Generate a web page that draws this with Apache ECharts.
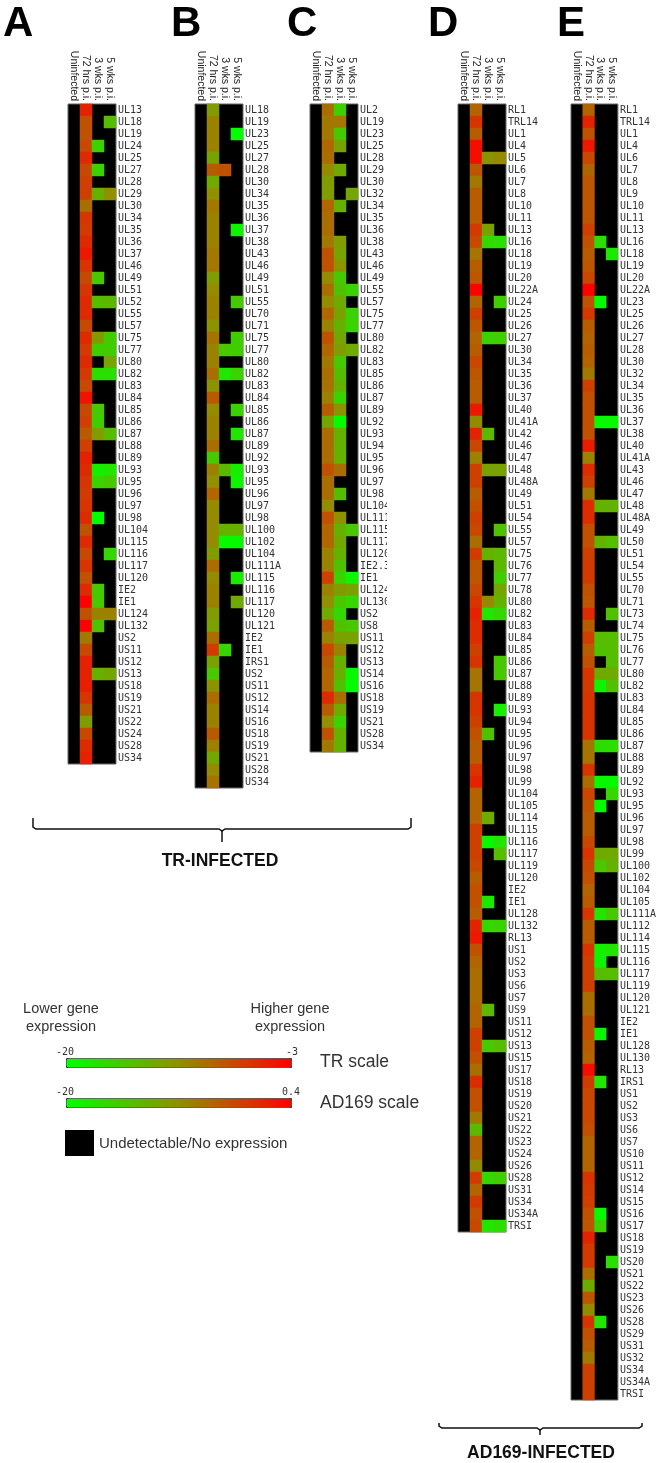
<!DOCTYPE html>
<html>
<head>
<meta charset="utf-8">
<style>html,body{margin:0;padding:0;background:#fff}</style>
<script src="https://cdn.jsdelivr.net/npm/echarts@6/dist/echarts.min.js"></script>
</head>
<body>
<div id="main" style="width:659px;height:1463px"></div>
<script>
const _ = null;
const columns = ['Uninfected', '72 hrs p.i.', '3 wks p.i.', '5 wks p.i.'];
const scaleColors = ['#00ff00', '#909000', '#ff0000'];

// panel A (TR scale)
const genesA = ['UL13','UL18','UL19','UL24','UL25','UL27','UL28','UL29','UL30','UL34',
  'UL35','UL36','UL37','UL46','UL49','UL51','UL52','UL55','UL57','UL75',
  'UL77','UL80','UL82','UL83','UL84','UL85','UL86','UL87','UL88','UL89',
  'UL93','UL95','UL96','UL97','UL98','UL104','UL115','UL116','UL117','UL120',
  'IE2','IE1','UL124','UL132','US2','US11','US12','US13','US18','US19',
  'US21','US22','US24','US28','US34'];
const hrs72A = [-5,-7.8,-7.8,-7.3,-5.5,-7.3,-6.7,-6.7,-9.5,-6.1,
  -6.4,-5.5,-4.4,-6.1,-7.3,-6.1,-5.5,-5.5,-7.3,-5.5,
  -6.4,-5.5,-6.4,-7.3,-4.2,-7.3,-6.7,-8.4,-6.7,-5,
  -5.5,-6.1,-6.4,-6.1,-5.5,-7.8,-5.5,-7.3,-6.1,-7.8,
  -5.5,-3,-7.8,-3,-10.1,-7.3,-5,-5,-4.7,-6.1,
  -8.4,-12.4,-7.3,-5.5,-5];
const wks3A = [_,_,_,-16.6,_,-16.6,_,-14,_,_,
  _,_,_,_,-15.8,_,-14.9,_,_,-12.4,
  -16.2,_,-17.5,_,_,-15.8,-16.2,-12.4,_,_,
  -18.8,-16.6,_,_,-20,_,_,_,_,_,
  -15.8,-15.8,-10.7,-15.2,_,_,_,-14,_,_,
  _,_,_,_,_];
const wks5A = [_,-14.9,_,_,_,_,_,-11.5,_,_,
  _,_,_,_,_,_,-14.6,_,_,-16.2,
  -16.2,-13.2,-17.5,_,_,_,_,-14.9,_,_,
  -18,-15.8,_,_,_,_,_,-16.9,_,_,
  _,_,-10.7,_,_,_,_,-13.2,_,_,
  _,_,_,_,_];

// panel B (TR scale)
const genesB = ['UL18','UL19','UL23','UL25','UL27','UL28','UL30','UL34','UL35','UL36',
  'UL37','UL38','UL43','UL46','UL49','UL51','UL55','UL70','UL71','UL75',
  'UL77','UL80','UL82','UL83','UL84','UL85','UL86','UL87','UL89','UL92',
  'UL93','UL95','UL96','UL97','UL98','UL100','UL102','UL104','UL111A','UL115',
  'UL116','UL117','UL120','UL121','IE2','IE1','IRS1','US2','US11','US12',
  'US14','US16','US18','US19','US21','US28','US34'];
const hrs72B = [-12.4,-10.7,-10.7,-10.7,-12.9,-8.4,-13.5,-11.5,-10.1,-10.7,
  -10.7,-10.7,-10.1,-10.1,-12.4,-11.2,-10.7,-10.7,-11.8,-9.8,
  -10.7,-10.7,-9.5,-11.8,-8.4,-11.2,-10.7,-10.7,-9.5,-15.8,
  -10.7,-11.5,-9,-11.2,-11.2,-11.2,-11.2,-12.4,-9.5,-11.2,
  -10.7,-10.7,-12.4,-12.9,-9.5,-6.4,-12.9,-15.8,-11.8,-9.5,
  -10.7,-10.7,-8.4,-10.7,-13.2,-11.2,-9.8];
const wks3B = [_,_,_,_,_,-7.8,_,_,_,_,
  _,_,_,_,_,_,_,_,_,_,
  -15.8,_,-18.3,_,_,_,_,_,_,_,
  -14.6,_,_,_,_,-14,-19.5,_,_,_,
  _,_,_,_,_,-16.9,_,_,_,_,
  _,_,_,_,_,_,_];
const wks5B = [_,_,-20,_,_,_,_,_,_,_,
  -19.2,_,_,_,_,_,-15.8,_,_,-16.2,
  -16.2,_,-16.6,_,_,-16.6,_,-18,_,_,
  -18.6,-19.2,_,_,_,-14,-19.5,_,_,-18.6,
  _,-13.5,_,_,_,_,_,_,_,_,
  _,_,_,_,_,_,_];

// panel C (TR scale)
const genesC = ['UL2','UL19','UL23','UL25','UL28','UL29','UL30','UL32','UL34','UL35',
  'UL36','UL38','UL43','UL46','UL49','UL55','UL57','UL75','UL77','UL80',
  'UL82','UL83','UL85','UL86','UL87','UL89','UL92','UL93','UL94','UL95',
  'UL96','UL97','UL98','UL104','UL111','UL115','UL117','UL120','IE2.3','IE1',
  'UL124','UL130','US2','US8','US11','US12','US13','US14','US16','US18',
  'US19','US21','US28','US34'];
const hrs72C = [-9.5,-10.1,-10.1,-9,-9.5,-11.2,-12.4,-12.4,-9,-9.5,
  -9.5,-10.1,-7.8,-7.8,-11.2,-9.5,-11.2,-9,-10.7,-7.8,
  -9,-10.1,-9.5,-9.8,-10.7,-8.4,-13.2,-9.5,-9.5,-9.5,
  -7.8,-9.5,-9.5,-11.2,-7.8,-9,-9,-10.7,-10.7,-6.7,
  -10.7,-11.5,-13.5,-8.4,-10.7,-7.3,-8.4,-9,-9,-5.5,
  -8.4,-11.5,-7.8,-10.1];
const wks3C = [-16.3,-10.1,-15.8,-12.9,_,-13.5,_,_,-14,_,
  _,-12.4,-12.9,-11.8,-15.8,-15.2,-13.5,-12.9,-14,-13.2,
  -12.4,-15.8,-14.9,-14,-16.6,-11.8,-19.7,-14,-14,-14,
  -9.5,_,-14.9,_,-11.5,-14,-13.2,-14,-15.2,-16.6,
  -12.4,-15.8,-16.9,-15.2,-12.9,-10.7,-14,-14,-15.2,-9.5,
  -13.5,-16.6,-14,-14];
const wks5C = [_,_,_,_,_,_,_,-13.2,_,_,
  _,_,_,_,_,-16.6,_,-16.6,-16.6,_,
  -13.5,_,_,_,_,_,_,_,_,_,
  _,_,_,_,_,-15.8,_,_,_,-19.2,
  -12.9,-16.9,_,-15.8,-12.9,_,_,-19.5,-19.7,_,
  _,_,_,_];

// panel D (AD169 scale)
const genesD = ['RL1','TRL14','UL1','UL4','UL5','UL6','UL7','UL8','UL10','UL11',
  'UL13','UL16','UL18','UL19','UL20','UL22A','UL24','UL25','UL26','UL27',
  'UL30','UL34','UL35','UL36','UL37','UL40','UL41A','UL42','UL46','UL47',
  'UL48','UL48A','UL49','UL51','UL54','UL55','UL57','UL75','UL76','UL77',
  'UL78','UL80','UL82','UL83','UL84','UL85','UL86','UL87','UL88','UL89',
  'UL93','UL94','UL95','UL96','UL97','UL98','UL99','UL104','UL105','UL114',
  'UL115','UL116','UL117','UL119','UL120','IE2','IE1','UL128','UL132','RL13',
  'US1','US2','US3','US6','US7','US9','US11','US12','US13','US15',
  'US17','US18','US19','US20','US21','US22','US23','US24','US26','US28',
  'US31','US34','US34A','TRSI'];
const hrs72D = [-6.7,-3.3,-6.1,-.6,-.6,-5.7,-8.2,-6.1,-6.1,-6.1,
  -3.7,-4.7,-7.8,-6.1,-5.7,.4,-6.7,-4.1,-5.7,-6.7,
  -6.1,-4.7,-5.7,-6.1,-6.1,-1.2,-9.4,-2,-4.7,-8.8,
  -4.1,-4.1,-6.1,-5.3,-4.1,-4.7,-7.4,-3.7,-5.7,-5.7,
  -4.7,-3.3,-2,-2.7,-2.7,-4.1,-3.3,-7.8,-7.8,-3.3,
  -3.3,-4.1,-5.3,-6.1,-6.1,-3.3,-2,-6.7,-6.7,-6.7,
  -4.1,-4.1,-4.1,-4.7,-6.1,-5.3,-5.3,-6.1,-2,-1.2,
  -5.3,-6.7,-7.4,-7.4,-7.4,-6.7,-6.7,-4.1,-4.1,-5.3,
  -7.4,-2.7,-5.3,-5.3,-8.2,-13.5,-6.7,-6.7,-9.4,-3.7,
  -6.7,-3.7,-5.3,-4.7];
const wks3D = [_,_,_,_,-10.2,_,_,_,_,_,
  -11.4,-16.3,_,_,_,_,_,_,_,-15.9,
  _,_,_,_,_,_,_,-13.5,_,_,
  -11.4,_,_,_,_,_,_,-12.9,_,_,
  _,-9.4,-17.6,_,_,_,_,_,_,_,
  _,_,-14.3,_,_,_,_,_,_,-12.2,
  _,-19.4,_,_,_,_,-18,_,-16.3,_,
  _,_,_,_,_,-13.5,_,_,-14.9,_,
  _,_,_,_,_,_,_,_,_,-16.3,
  _,_,_,-17.6];
const wks5D = [_,_,_,_,-9.4,_,_,_,_,_,
  _,-16.9,_,_,_,_,-15.5,_,_,-15.5,
  _,_,_,_,_,_,_,_,_,_,
  -11.4,_,_,_,_,-14.3,_,-13.5,-13.5,-15.5,
  -11.8,-12.9,-16.3,_,_,_,-14.9,-14.9,_,_,
  -18.4,_,_,_,_,_,_,_,_,_,
  _,-17.6,-13.9,_,_,_,_,_,-15.9,_,
  _,_,_,_,_,_,_,_,-13.9,_,
  _,_,_,_,_,_,_,_,_,-15.5,
  _,_,_,-16.9];

// panel E (AD169 scale)
const genesE = ['RL1','TRL14','UL1','UL4','UL6','UL7','UL8','UL9','UL10','UL11',
  'UL13','UL16','UL18','UL19','UL20','UL22A','UL23','UL25','UL26','UL27',
  'UL28','UL30','UL32','UL34','UL35','UL36','UL37','UL38','UL40','UL41A',
  'UL43','UL46','UL47','UL48','UL48A','UL49','UL50','UL51','UL54','UL55',
  'UL70','UL71','UL73','UL74','UL75','UL76','UL77','UL80','UL82','UL83',
  'UL84','UL85','UL86','UL87','UL88','UL89','UL92','UL93','UL95','UL96',
  'UL97','UL98','UL99','UL100','UL102','UL104','UL105','UL111A','UL112','UL114',
  'UL115','UL116','UL117','UL119','UL120','UL121','IE2','IE1','UL128','UL130',
  'RL13','IRS1','US1','US2','US3','US6','US7','US10','US11','US12',
  'US14','US15','US16','US17','US18','US19','US20','US21','US22','US23',
  'US26','US28','US29','US31','US32','US34','US34A','TRSI'];
const hrs72E = [-6.7,-2,-5.3,-1.2,-4.7,-6.7,-5.7,-5.7,-5.7,-5.7,
  -4.1,-5.3,-6.1,-5.7,-4.7,.4,-5.3,-3.7,-6.1,-6.7,
  -6.1,-6.7,-8.2,-4.1,-5.3,-5.3,-5.3,-5.3,-1.6,-8.8,
  -2.7,-4.1,-8.2,-2.7,-2.7,-5.3,-5.3,-4.1,-3.7,-3.7,
  -5.3,-5.7,-2.7,-6.1,-4.1,-6.1,-5.3,-3.3,-3.7,-3.3,
  -3.3,-3.3,-3.3,-7.8,-7.8,-3.3,-7.4,-4.7,-5.3,-6.1,
  -6.1,-4.7,-3.3,-4.7,-5.3,-6.7,-6.1,-3.3,-6.1,-6.1,
  -3.3,-4.1,-4.1,-4.1,-7.4,-7.4,-5.3,-5.3,-6.1,-6.7,
  -.6,-3.7,-4.7,-4.7,-4.7,-5.3,-6.7,-6.7,-6.7,-3.3,
  -3.7,-4.1,-5.3,-5.7,-2,-3.7,-3.7,-7.4,-12.2,-5.7,
  -9.4,-3.3,-5.3,-6.1,-8.2,-4.1,-4.1,-4.1];
const wks3E = [_,_,_,_,_,_,_,_,_,_,
  _,-16.9,_,_,_,_,-19.6,_,_,_,
  _,_,_,_,_,_,-19.4,_,_,_,
  _,_,_,-12.9,_,_,-12.9,_,_,_,
  _,_,_,_,-13.9,-14.3,_,-12.2,-19,_,
  _,_,_,-16.9,_,_,-19.4,_,-19.4,_,
  _,_,-12.2,-14.9,_,_,_,-17.6,_,_,
  -18.6,-19,-13.9,_,_,_,_,-19,_,_,
  _,-17.6,_,_,_,_,_,_,_,_,
  _,_,-19.4,-15.9,_,_,_,_,_,_,
  _,-17.6,_,_,_,_,_,_];
const wks5E = [_,_,_,_,_,_,_,_,_,_,
  _,_,-18,_,_,_,_,_,_,_,
  _,_,_,_,_,_,-19.4,_,_,_,
  _,_,_,-12.9,_,_,-13.9,_,_,_,
  _,_,-14.3,_,-13.9,-13.9,-13.9,-12.2,-14.3,_,
  _,_,_,-16.9,_,_,-19.4,-16.3,_,_,
  _,_,-12.2,-12.9,_,_,_,-14.9,_,_,
  -17.6,_,-13.9,_,_,_,_,_,_,_,
  _,_,_,_,_,_,_,_,_,_,
  _,_,_,_,_,_,-16.9,_,_,_,
  _,_,_,_,_,_,_,_];

const trScale = [-20, -3];
const adScale = [-20, 0.4];

var myChart = echarts.init(document.getElementById('main'), null, {renderer: 'canvas'});

var CELL = 12;
var panels = [
  {letter: 'A', letterX: 3, left: 68, genes: genesA, cols: [hrs72A, wks3A, wks5A]},
  {letter: 'B', letterX: 171, left: 195, genes: genesB, cols: [hrs72B, wks3B, wks5B]},
  {letter: 'C', letterX: 287, left: 310, genes: genesC, cols: [hrs72C, wks3C, wks5C]},
  {letter: 'D', letterX: 428, left: 458, genes: genesD, cols: [hrs72D, wks3D, wks5D]},
  {letter: 'E', letterX: 557, left: 571, genes: genesE, cols: [hrs72E, wks3E, wks5E]}
];

var grids = [], xAxes = [], yAxes = [], series = [], graphics = [];

panels.forEach(function (p, i) {
  grids.push({
    show: true, left: p.left, top: 104, width: CELL * 4, height: CELL * p.genes.length,
    backgroundColor: '#000', borderWidth: 1, borderColor: '#666'
  });
  xAxes.push({
    type: 'category', gridIndex: i, position: 'top', data: columns,
    axisLine: {show: false}, axisTick: {show: false},
    axisLabel: {
      interval: 0, rotate: 90, margin: 3, fontSize: 10.5, color: '#222',
      fontFamily: '"Liberation Sans"'
    }
  });
  yAxes.push({
    type: 'category', gridIndex: i, position: 'right', inverse: true, data: p.genes,
    axisLine: {show: false}, axisTick: {show: false},
    axisLabel: {
      interval: 0, margin: 2, fontSize: 10, color: '#333',
      fontFamily: '"DejaVu Sans Mono"'
    }
  });
  var cells = [];
  p.cols.forEach(function (col, c) {
    col.forEach(function (v, r) {
      if (v !== null) cells.push([c + 1, r, v]);
    });
  });
  series.push({
    type: 'heatmap', xAxisIndex: i, yAxisIndex: i, data: cells,
    itemStyle: {borderWidth: 0}, emphasis: {disabled: true}, progressive: 0
  });
  graphics.push({
    type: 'text', left: p.letterX, top: 3, z: 50,
    style: {text: p.letter, fill: '#000', font: 'bold 42px "Liberation Sans"'}
  });
});

function txt(text, x, y, font, align, fill) {
  return {
    type: 'text', x: x, y: y, z: 50,
    style: {text: text, font: font, fill: fill || '#333', textAlign: align || 'left', textVerticalAlign: 'middle'}
  };
}

function bracket(x1, x2, mid, top, bar) {
  return {
    type: 'polyline', z: 50,
    shape: {points: [[x1, top], [x1, bar - 2], [x1 + 3, bar], [mid - 3, bar], [mid, bar + 2], [mid + 3, bar], [x2 - 3, bar], [x2, bar - 2], [x2, top]]},
    style: {stroke: '#111', lineWidth: 1.5, fill: null}
  };
}

graphics.push(
  // panel C labels are cut off in the source image
  {type: 'rect', z: 60, shape: {x: 387, y: 100, width: 12, height: 660}, style: {fill: '#fff'}},
  bracket(33, 411, 222, 818, 829),
  {type: 'line', z: 50, shape: {x1: 222, y1: 831, x2: 222, y2: 842}, style: {stroke: '#111', lineWidth: 1.5}},
  txt('TR-INFECTED', 220, 861, 'bold 17.5px "Liberation Sans"', 'center', '#111'),
  bracket(439, 642, 540, 1423, 1428),
  {type: 'line', z: 50, shape: {x1: 540, y1: 1430, x2: 540, y2: 1435}, style: {stroke: '#111', lineWidth: 1.5}},
  txt('AD169-INFECTED', 541, 1453, 'bold 17.5px "Liberation Sans"', 'center', '#111'),
  txt('Lower gene', 61, 1009, '14.5px "Liberation Sans"', 'center'),
  txt('expression', 61, 1027, '14.5px "Liberation Sans"', 'center'),
  txt('Higher gene', 290, 1009, '14.5px "Liberation Sans"', 'center'),
  txt('expression', 290, 1027, '14.5px "Liberation Sans"', 'center'),
  txt(String(trScale[0]), 56, 1052, '10px "DejaVu Sans Mono"'),
  txt(String(trScale[1]), 298, 1052, '10px "DejaVu Sans Mono"', 'right'),
  txt(String(adScale[0]), 56, 1092, '10px "DejaVu Sans Mono"'),
  txt(String(adScale[1]), 300, 1092, '10px "DejaVu Sans Mono"', 'right'),
  txt('TR scale', 320, 1062, '17.5px "Liberation Sans"'),
  txt('AD169 scale', 320, 1103, '17.5px "Liberation Sans"'),
  {type: 'rect', z: 50, shape: {x: 65, y: 1130, width: 29, height: 26}, style: {fill: '#000'}},
  txt('Undetectable/No expression', 99, 1144, '15px "Liberation Sans"')
);

var option = {
  animation: false,
  backgroundColor: '#fff',
  grid: grids,
  xAxis: xAxes,
  yAxis: yAxes,
  // the two scale bars are the visual maps themselves
  visualMap: [
    {
      type: 'continuous', seriesIndex: [0, 1, 2], min: trScale[0], max: trScale[1],
      orient: 'horizontal', left: 66, top: 1058, itemWidth: 9, itemHeight: 225,
      padding: 0, borderWidth: 1, borderColor: '#333', text: null,
      calculable: false, hoverLink: false,
      inRange: {color: scaleColors}
    },
    {
      type: 'continuous', seriesIndex: [3, 4], min: adScale[0], max: adScale[1],
      orient: 'horizontal', left: 66, top: 1098, itemWidth: 9, itemHeight: 225,
      padding: 0, borderWidth: 1, borderColor: '#333', text: null,
      calculable: false, hoverLink: false,
      inRange: {color: scaleColors}
    }
  ],
  series: series,
  graphic: graphics
};

myChart.setOption(option);
</script>
</body>
</html>
